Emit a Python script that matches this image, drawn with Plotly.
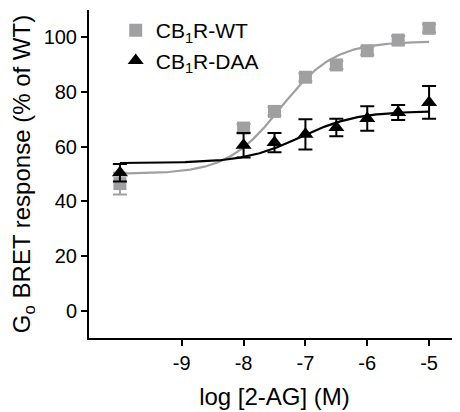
import numpy as np
import plotly.graph_objects as go

# log [2-AG] (M)
log_conc = [-10, -8, -7.5, -7, -6.5, -6, -5.5, -5]

# CB1R-WT response (% of WT)
wt_mean = [46.5, 66.8, 72.9, 85.4, 89.9, 95.1, 99.0, 103.3]
wt_err = [4.0, 1.5, 1.5, 1.5, 1.5, 1.5, 1.5, 1.5]

# CB1R-DAA response (% of WT)
daa_mean = [50.5, 60.5, 61.5, 64.5, 67.0, 70.3, 72.5, 76.2]
daa_err = [3.2, 4.5, 3.5, 5.5, 3.2, 4.5, 2.7, 6.0]

# Fitted sigmoidal dose-response parameters: bottom, top, logEC50, hill
wt_fit = dict(bottom=50.0, top=98.5, logec50=-7.4, hill=1.0)
daa_fit = dict(bottom=54.0, top=73.0, logec50=-7.08, hill=0.95)

y_ticks = [0, 20, 40, 60, 80, 100]
x_ticks = [-9, -8, -7, -6, -5]

GRAY = "#a0a0a3"
FONT = "Liberation Sans, Arial, sans-serif"


def sigmoid(x, p):
    x = np.asarray(x)
    return p["bottom"] + (p["top"] - p["bottom"]) / (1 + 10 ** ((p["logec50"] - x) * p["hill"]))


xs = np.linspace(log_conc[0], log_conc[-1], 300)

fig = go.Figure()

fig.add_trace(go.Scatter(x=xs, y=sigmoid(xs, wt_fit), mode="lines",
                         line=dict(color=GRAY, width=2.2), showlegend=False,
                         hoverinfo="skip"))
fig.add_trace(go.Scatter(x=log_conc, y=wt_mean, mode="markers",
                         name="CB<sub>1</sub>R-WT",
                         marker=dict(symbol="square", size=13, color=GRAY),
                         error_y=dict(type="data", array=wt_err, color=GRAY,
                                      thickness=2, width=7)))
fig.add_trace(go.Scatter(x=xs, y=sigmoid(xs, daa_fit), mode="lines",
                         line=dict(color="black", width=2.2), showlegend=False,
                         hoverinfo="skip"))
fig.add_trace(go.Scatter(x=log_conc, y=daa_mean, mode="markers",
                         name="CB<sub>1</sub>R-DAA",
                         marker=dict(symbol="triangle-up", size=14, color="black"),
                         error_y=dict(type="data", array=daa_err, color="black",
                                      thickness=2, width=7)))

# page body has an 8px default margin, so the figure is 8px smaller and shifted
fig.update_layout(
    width=452, height=404,
    margin=dict(l=81, r=0, t=2, b=74),
    plot_bgcolor="white", paper_bgcolor="white",
    font=dict(family=FONT, size=20, color="black"),
    showlegend=True,
    legend=dict(x=0.072, y=1.0, xanchor="left", yanchor="top",
                bgcolor="rgba(0,0,0,0)", font=dict(size=21), tracegroupgap=0),
)
fig.update_xaxes(range=[-10.5, -4.5], tickvals=x_ticks, ticktext=[str(v) for v in x_ticks],
                 showline=True, linecolor="black", linewidth=2, mirror=False,
                 ticks="outside", ticklen=6, tickwidth=2, tickcolor="black",
                 showgrid=False, zeroline=False,
                 title=dict(text="log [2-AG] (M)", standoff=15))
fig.update_yaxes(range=[-10, 110], tickvals=y_ticks,
                 showline=True, linecolor="black", linewidth=2,
                 ticks="outside", ticklen=6, tickwidth=2, tickcolor="black",
                 showgrid=False, zeroline=False,
                 title=dict(text="G<sub>o</sub> BRET response (% of WT)", standoff=8))

fig.write_html("out.html")
